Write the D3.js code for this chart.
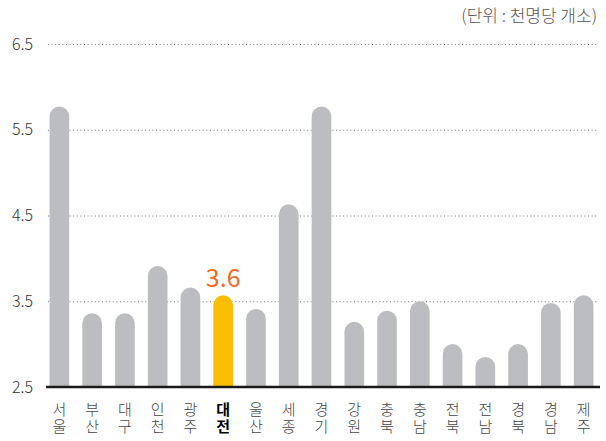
<!DOCTYPE html>
<html>
<head>
<meta charset="utf-8">
<script src="https://cdn.jsdelivr.net/npm/d3@7"></script>
<style>
  body { margin: 0; background: #fff; }
  text { font-family: "Noto Sans CJK KR", "Noto Sans", sans-serif; }
</style>
</head>
<body>
<div id="chart"></div>
<script>
const regions = ["서울", "부산", "대구", "인천", "광주", "대전", "울산", "세종", "경기", "강원", "충북", "충남", "전북", "전남", "경북", "경남", "제주"];
const values = [5.77, 3.36, 3.36, 3.91, 3.66, 3.57, 3.41, 4.63, 5.77, 3.26, 3.39, 3.5, 3.0, 2.85, 3.0, 3.48, 3.57];
const yTicks = [2.5, 3.5, 4.5, 5.5, 6.5];
const highlight = "대전";
const unitLabel = "(단위 : 천명당 개소)";

const width = 606;
const height = 441;
const margin = { top: 44, right: 6, bottom: 54, left: 43 };
const barColor = "#bcbdc0";
const hiColor = "#f9be00";

const svg = d3.select("#chart").append("svg").attr("width", width).attr("height", height);

const x = d3
  .scaleBand()
  .domain(regions)
  .range([margin.left, width - margin.right])
  .paddingInner(0.4)
  .paddingOuter(0.2);

const y = d3
  .scaleLinear()
  .domain([2.5, 6.5])
  .range([height - margin.bottom, margin.top]);

// 격자선
const yAxis = (g) =>
  g
    .attr("transform", `translate(48,0)`)
    .call(d3.axisLeft(y).tickValues(yTicks).tickFormat(d3.format(".1f")).tickSize(0).tickPadding(15))
    .call((g) => g.select(".domain").remove())
    .call((g) =>
      g
        .selectAll(".tick line")
        .attr("x2", width - 8 - 48)
        .attr("stroke", "#777")
        .attr("stroke-dasharray", "1,2.6")
        .attr("stroke-width", 1)
    )
    .call((g) =>
      g.selectAll(".tick text").attr("fill", "#333").attr("font-size", 16).attr("font-weight", 300).attr("font-family", "Lato, sans-serif")
    );

svg.append("g").call(yAxis);
svg.selectAll(".tick").filter((d) => d === 2.5).select("line").remove();

// 막대 (둥근 윗부분)
const bw = x.bandwidth();
const r = bw / 2;
const barPath = (d, i) => {
  const x0 = x(regions[i]);
  const y0 = y(2.5);
  const yt = y(d);
  return `M${x0},${y0}V${yt + r}A${r},${r} 0 0 1 ${x0 + bw},${yt + r}V${y0}Z`;
};

svg
  .append("g")
  .selectAll("path")
  .data(values)
  .join("path")
  .attr("d", barPath)
  .attr("fill", (d, i) => (regions[i] === highlight ? hiColor : barColor));

// 기준선
svg
  .append("line")
  .attr("x1", 46)
  .attr("x2", width - 6)
  .attr("y1", y(2.5))
  .attr("y2", y(2.5))
  .attr("stroke", "#1a1a1a")
  .attr("stroke-width", 2.5);

// 값 라벨
const hi = regions.indexOf(highlight);
svg
  .append("text")
  .attr("x", x(highlight) + bw / 2)
  .attr("y", y(values[hi]) - 8)
  .attr("text-anchor", "middle")
  .attr("fill", "#f26b22")
  .attr("font-size", 25)
  .attr("font-family", "'Liberation Sans Narrow', 'Roboto', sans-serif")
  .text(d3.format(".1f")(values[hi]));

// 지역 라벨 (세로쓰기)
svg
  .append("g")
  .selectAll("text")
  .data(regions)
  .join("text")
  .attr("x", (d) => x(d) + bw / 2)
  .attr("y", y(2.5) + 15)
  .style("writing-mode", "vertical-rl")
  .style("text-orientation", "upright")
  .attr("letter-spacing", 2)
  .attr("text-anchor", "start")
  .attr("fill", (d) => (d === highlight ? "#000" : "#444"))
  .attr("font-weight", (d) => (d === highlight ? 700 : 300))
  .attr("font-size", 15)
  .text((d) => d);

// 단위
svg
  .append("text")
  .attr("x", width - 9)
  .attr("y", 22)
  .attr("text-anchor", "end")
  .attr("fill", "#555")
  .attr("font-size", 17)
  .attr("font-weight", 300)
  .text(unitLabel);
</script>
</body>
</html>
